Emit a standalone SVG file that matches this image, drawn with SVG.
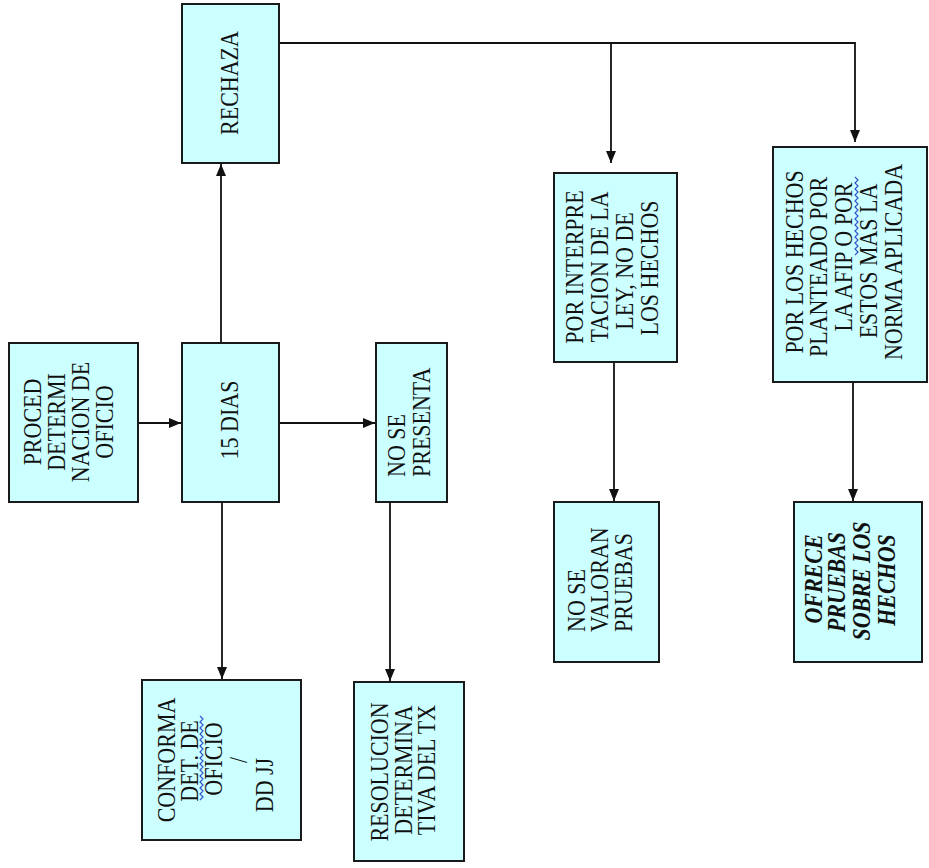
<svg xmlns="http://www.w3.org/2000/svg" width="929" height="868" viewBox="0 0 929 868">
<style>
.box{fill:#ccffff;stroke:#1a1a1a;stroke-width:2}
.t{font-family:"Liberation Serif","Times New Roman",serif;font-size:22px;fill:#111;text-anchor:middle}
.s{text-anchor:start}
.bi{font-weight:bold;font-style:italic}
.c{fill:none;stroke:#111;stroke-width:1.8}
.w{fill:none;stroke:#3355cc;stroke-width:1.2}
</style>
<defs>
<marker id="ah" viewBox="0 0 12 10" refX="12" refY="5" markerWidth="12" markerHeight="10" markerUnits="userSpaceOnUse" orient="auto">
<path d="M0,0 L12,5 L0,10 z" fill="#111"/>
</marker>
</defs>
<rect width="929" height="868" fill="#fff"/>
<g id="connectors">
<path class="c" d="M138,423 H181" marker-end="url(#ah)"/>
<path class="c" d="M279,423 H375" marker-end="url(#ah)"/>
<path class="c" d="M221,343 V164" marker-end="url(#ah)"/>
<path class="c" d="M222,502 V679" marker-end="url(#ah)"/>
<path class="c" d="M390,502 V681" marker-end="url(#ah)"/>
<path class="c" d="M279,43 H855 V142" marker-end="url(#ah)"/>
<path class="c" d="M611,43 V163" marker-end="url(#ah)"/>
<path class="c" d="M614,362 V501" marker-end="url(#ah)"/>
<path class="c" d="M853,382 V501" marker-end="url(#ah)"/>
</g>
<g id="n1">
<rect class="box" x="9" y="343" width="129" height="159"/>
<text class="t" transform="translate(41,422) rotate(-90) scale(1,1.1)">PROCED</text>
<text class="t" transform="translate(65,422) rotate(-90) scale(1,1.1)">DETERMI</text>
<text class="t" transform="translate(89,422) rotate(-90) scale(1,1.1)">NACION DE</text>
<text class="t" transform="translate(113,422) rotate(-90) scale(1,1.1)">OFICIO</text>
</g>
<g id="n2">
<rect class="box" x="182" y="343" width="97" height="159"/>
<text class="t" transform="translate(238,420) rotate(-90) scale(1,1.1)">15 DIAS</text>
</g>
<g id="n3">
<rect class="box" x="376" y="343" width="71" height="159"/>
<text class="t s" transform="translate(405,477) rotate(-90) scale(1,1.1)">NO SE</text>
<text class="t s" transform="translate(430,477) rotate(-90) scale(1,1.1)">PRESENTA</text>
</g>
<g id="n4">
<rect class="box" x="182" y="4" width="97" height="159"/>
<text class="t" transform="translate(238,83) rotate(-90) scale(1,1.1)">RECHAZA</text>
</g>
<g id="n5">
<rect class="box" x="142" y="680" width="159" height="160"/>
<text class="t" transform="translate(175,760) rotate(-90) scale(1,1.1)">CONFORMA</text>
<text class="t" transform="translate(198,761) rotate(-90) scale(1,1.1)">DET. DE</text>
<text class="t" transform="translate(222,759) rotate(-90) scale(1,1.1)">OFICIO</text>
<text class="t" transform="translate(247,760) rotate(-90) scale(1,1.1)">/</text>
<text class="t" transform="translate(273,785) rotate(-90) scale(1,1.1)">DD JJ</text>
<path class="w" d="M200,800 l3,-3 l-3,-3 l3,-3 l-3,-3 l3,-3 l-3,-3 l3,-3 l-3,-3 l3,-3 l-3,-3 l3,-3 l-3,-3 l3,-3 l-3,-3 l3,-3 l-3,-3 l3,-3 l-3,-3 l3,-3 l-3,-3 l3,-3 l-3,-3 l3,-3 l-3,-3 l3,-3 l-3,-3 l3,-3 l-3,-3"/>
</g>
<g id="n6">
<rect class="box" x="354" y="682" width="110" height="179"/>
<text class="t" transform="translate(388,772) rotate(-90) scale(1,1.1)">RESOLUCION</text>
<text class="t" transform="translate(412,770) rotate(-90) scale(1,1.1)">DETERMINA</text>
<text class="t" transform="translate(435,770) rotate(-90) scale(1,1.1)">TIVA DEL TX</text>
</g>
<g id="n7">
<rect class="box" x="554" y="173" width="123" height="189"/>
<text class="t" transform="translate(583,267) rotate(-90) scale(1,1.1)">POR INTERPRE</text>
<text class="t" transform="translate(608,267) rotate(-90) scale(1,1.1)">TACION DE LA</text>
<text class="t" transform="translate(633,271) rotate(-90) scale(1,1.1)">LEY, NO DE</text>
<text class="t" transform="translate(658,268) rotate(-90) scale(1,1.1)">LOS HECHOS</text>
</g>
<g id="n8">
<rect class="box" x="773" y="147" width="154" height="235"/>
<text class="t" transform="translate(803,262) rotate(-90) scale(1,1.1)">POR LOS HECHOS</text>
<text class="t" transform="translate(827,267) rotate(-90) scale(1,1.1)">PLANTEADO POR</text>
<text class="t" transform="translate(852,257) rotate(-90) scale(1,1.1)">LA AFIP O POR</text>
<text class="t" transform="translate(877,261) rotate(-90) scale(1,1.1)">ESTOS MAS LA</text>
<text class="t" transform="translate(902,262) rotate(-90) scale(1,1.1)">NORMA APLICADA</text>
<path class="w" d="M855,255 l3,-3 l-3,-3 l3,-3 l-3,-3 l3,-3 l-3,-3 l3,-3 l-3,-3 l3,-3 l-3,-3 l3,-3 l-3,-3 l3,-3 l-3,-3 l3,-3 l-3,-3 l3,-3 l-3,-3 l3,-3 l-3,-3 l3,-3 l-3,-3 l3,-3 l-3,-3 l3,-3 l-3,-3"/>
</g>
<g id="n9">
<rect class="box" x="554" y="502" width="105" height="160"/>
<text class="t s" transform="translate(585,632) rotate(-90) scale(1,1.1)">NO SE</text>
<text class="t s" transform="translate(608,632) rotate(-90) scale(1,1.1)">VALORAN</text>
<text class="t s" transform="translate(632,632) rotate(-90) scale(1,1.1)">PRUEBAS</text>
</g>
<g id="n10">
<rect class="box" x="794" y="502" width="128" height="160"/>
<text class="t bi" transform="translate(822,579) rotate(-90) scale(1,1.1)">OFRECE</text>
<text class="t bi" transform="translate(845,582) rotate(-90) scale(1,1.1)">PRUEBAS</text>
<text class="t bi" transform="translate(870,581) rotate(-90) scale(1,1.1)">SOBRE LOS</text>
<text class="t bi" transform="translate(895,580) rotate(-90) scale(1,1.1)">HECHOS</text>
</g>
</svg>
